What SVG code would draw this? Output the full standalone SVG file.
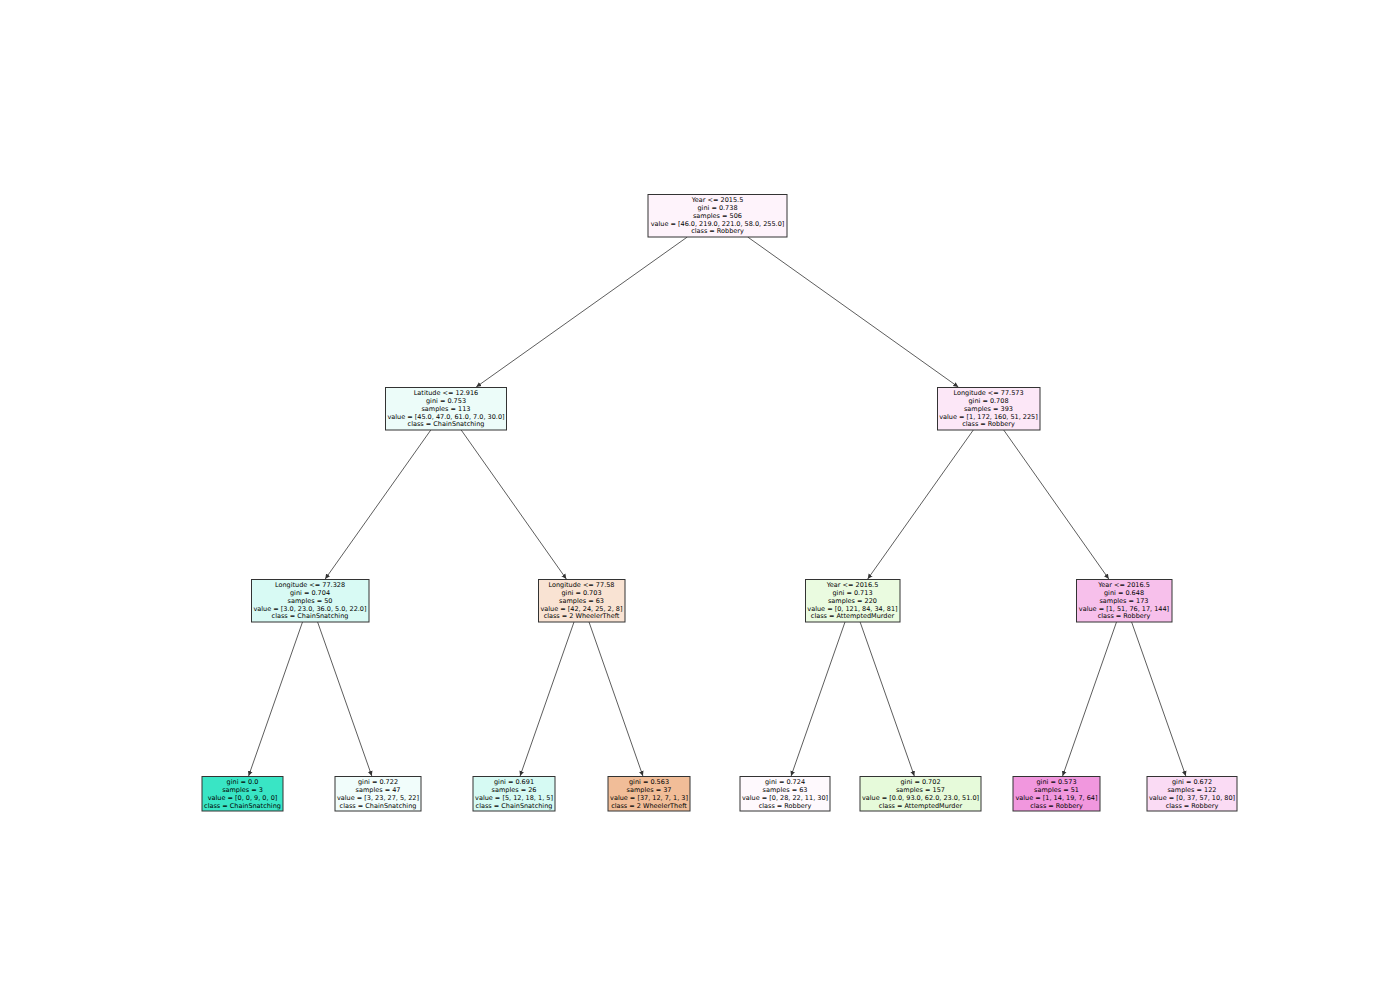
<svg xmlns="http://www.w3.org/2000/svg" width="1400" height="1000" viewBox="0 0 1400 1000">
  <style>
    .box { stroke: #333333; stroke-width: 1; }
    .lbl { font-family: "DejaVu Sans", "Liberation Sans", sans-serif; font-size: 6.5px; fill: #000000; text-anchor: middle; }
    .edge { stroke: #333333; stroke-width: 0.8; fill: none; marker-end: url(#head); }
  </style>
  <defs>
    <marker id="head" markerWidth="6" markerHeight="6" refX="5" refY="3" orient="auto" markerUnits="userSpaceOnUse">
      <path d="M0,0.6 L5,3 L0,5.4 Z" fill="#333333"/>
    </marker>
  </defs>
  <rect width="1400" height="1000" fill="#ffffff"/>

  <!-- connectors: parent centre to child centre, clipped to the box edges -->
  <g id="edges">
    <line class="edge" x1="687.3" y1="237" x2="476.2" y2="387"/>
    <line class="edge" x1="747.7" y1="237" x2="958.3" y2="387"/>
    <line class="edge" x1="430.8" y1="430" x2="325.2" y2="579"/>
    <line class="edge" x1="461.2" y1="430" x2="566.3" y2="579"/>
    <line class="edge" x1="973.3" y1="430" x2="867.7" y2="579"/>
    <line class="edge" x1="1003.7" y1="430" x2="1108.8" y2="579"/>
    <line class="edge" x1="302.5" y1="622" x2="248.6" y2="776"/>
    <line class="edge" x1="317.6" y1="622" x2="371.8" y2="776"/>
    <line class="edge" x1="574" y1="622" x2="520.1" y2="776"/>
    <line class="edge" x1="589" y1="622" x2="642.9" y2="776"/>
    <line class="edge" x1="845" y1="622" x2="791.1" y2="776"/>
    <line class="edge" x1="860.1" y1="622" x2="914.3" y2="776"/>
    <line class="edge" x1="1116.5" y1="622" x2="1062.6" y2="776"/>
    <line class="edge" x1="1131.6" y1="622" x2="1185.8" y2="776"/>
  </g>

  <!-- split nodes -->
  <g id="n0">
    <rect class="box" x="648" y="194.5" width="139" height="42.5" fill="#fef3fb"/>
    <text class="lbl" x="717.5" y="202.3">Year &lt;= 2015.5</text>
    <text class="lbl" x="717.5" y="210.1">gini = 0.738</text>
    <text class="lbl" x="717.5" y="217.8">samples = 506</text>
    <text class="lbl" x="717.5" y="225.6">value = [46.0, 219.0, 221.0, 58.0, 255.0]</text>
    <text class="lbl" x="717.5" y="233.3">class = Robbery</text>
  </g>
  <g id="n1">
    <rect class="box" x="385.5" y="387.5" width="121" height="42.5" fill="#ecfcf9"/>
    <text class="lbl" x="446" y="395.3">Latitude &lt;= 12.916</text>
    <text class="lbl" x="446" y="403.1">gini = 0.753</text>
    <text class="lbl" x="446" y="410.8">samples = 113</text>
    <text class="lbl" x="446" y="418.6">value = [45.0, 47.0, 61.0, 7.0, 30.0]</text>
    <text class="lbl" x="446" y="426.3">class = ChainSnatching</text>
  </g>
  <g id="n2">
    <rect class="box" x="937.5" y="387.5" width="102.5" height="42.5" fill="#fce7f7"/>
    <text class="lbl" x="988.5" y="395.3">Longitude &lt;= 77.573</text>
    <text class="lbl" x="988.5" y="403.1">gini = 0.708</text>
    <text class="lbl" x="988.5" y="410.8">samples = 393</text>
    <text class="lbl" x="988.5" y="418.6">value = [1, 172, 160, 51, 225]</text>
    <text class="lbl" x="988.5" y="426.3">class = Robbery</text>
  </g>
  <g id="n3">
    <rect class="box" x="251.5" y="579.5" width="117.5" height="42.5" fill="#d8faf4"/>
    <text class="lbl" x="310" y="587.3">Longitude &lt;= 77.328</text>
    <text class="lbl" x="310" y="595.1">gini = 0.704</text>
    <text class="lbl" x="310" y="602.8">samples = 50</text>
    <text class="lbl" x="310" y="610.6">value = [3.0, 23.0, 36.0, 5.0, 22.0]</text>
    <text class="lbl" x="310" y="618.3">class = ChainSnatching</text>
  </g>
  <g id="n4">
    <rect class="box" x="538.5" y="579.5" width="86.5" height="42.5" fill="#f9e3d3"/>
    <text class="lbl" x="581.5" y="587.3">Longitude &lt;= 77.58</text>
    <text class="lbl" x="581.5" y="595.1">gini = 0.703</text>
    <text class="lbl" x="581.5" y="602.8">samples = 63</text>
    <text class="lbl" x="581.5" y="610.6">value = [42, 24, 25, 2, 8]</text>
    <text class="lbl" x="581.5" y="618.3">class = 2 WheelerTheft</text>
  </g>
  <g id="n5">
    <rect class="box" x="805.5" y="579.5" width="94.5" height="42.5" fill="#eafbe0"/>
    <text class="lbl" x="852.5" y="587.3">Year &lt;= 2016.5</text>
    <text class="lbl" x="852.5" y="595.1">gini = 0.713</text>
    <text class="lbl" x="852.5" y="602.8">samples = 220</text>
    <text class="lbl" x="852.5" y="610.6">value = [0, 121, 84, 34, 81]</text>
    <text class="lbl" x="852.5" y="618.3">class = AttemptedMurder</text>
  </g>
  <g id="n6">
    <rect class="box" x="1076.5" y="579.5" width="95.5" height="42.5" fill="#f7c0eb"/>
    <text class="lbl" x="1124" y="587.3">Year &lt;= 2016.5</text>
    <text class="lbl" x="1124" y="595.1">gini = 0.648</text>
    <text class="lbl" x="1124" y="602.8">samples = 173</text>
    <text class="lbl" x="1124" y="610.6">value = [1, 51, 76, 17, 144]</text>
    <text class="lbl" x="1124" y="618.3">class = Robbery</text>
  </g>

  <!-- leaf nodes -->
  <g id="n7">
    <rect class="box" x="202" y="776.5" width="81" height="34.5" fill="#39e5c5"/>
    <text class="lbl" x="242.5" y="784.2">gini = 0.0</text>
    <text class="lbl" x="242.5" y="792">samples = 3</text>
    <text class="lbl" x="242.5" y="799.7">value = [0, 0, 9, 0, 0]</text>
    <text class="lbl" x="242.5" y="807.5">class = ChainSnatching</text>
  </g>
  <g id="n8">
    <rect class="box" x="335" y="776.5" width="86" height="34.5" fill="#f1fdfb"/>
    <text class="lbl" x="378" y="784.2">gini = 0.722</text>
    <text class="lbl" x="378" y="792">samples = 47</text>
    <text class="lbl" x="378" y="799.7">value = [3, 23, 27, 5, 22]</text>
    <text class="lbl" x="378" y="807.5">class = ChainSnatching</text>
  </g>
  <g id="n9">
    <rect class="box" x="473" y="776.5" width="82" height="34.5" fill="#d6faf3"/>
    <text class="lbl" x="514" y="784.2">gini = 0.691</text>
    <text class="lbl" x="514" y="792">samples = 26</text>
    <text class="lbl" x="514" y="799.7">value = [5, 12, 18, 1, 5]</text>
    <text class="lbl" x="514" y="807.5">class = ChainSnatching</text>
  </g>
  <g id="n10">
    <rect class="box" x="608" y="776.5" width="82" height="34.5" fill="#f1bd98"/>
    <text class="lbl" x="649" y="784.2">gini = 0.563</text>
    <text class="lbl" x="649" y="792">samples = 37</text>
    <text class="lbl" x="649" y="799.7">value = [37, 12, 7, 1, 3]</text>
    <text class="lbl" x="649" y="807.5">class = 2 WheelerTheft</text>
  </g>
  <g id="n11">
    <rect class="box" x="740" y="776.5" width="90" height="34.5" fill="#fef9fd"/>
    <text class="lbl" x="785" y="784.2">gini = 0.724</text>
    <text class="lbl" x="785" y="792">samples = 63</text>
    <text class="lbl" x="785" y="799.7">value = [0, 28, 22, 11, 30]</text>
    <text class="lbl" x="785" y="807.5">class = Robbery</text>
  </g>
  <g id="n12">
    <rect class="box" x="860" y="776.5" width="121" height="34.5" fill="#e6fada"/>
    <text class="lbl" x="920.5" y="784.2">gini = 0.702</text>
    <text class="lbl" x="920.5" y="792">samples = 157</text>
    <text class="lbl" x="920.5" y="799.7">value = [0.0, 93.0, 62.0, 23.0, 51.0]</text>
    <text class="lbl" x="920.5" y="807.5">class = AttemptedMurder</text>
  </g>
  <g id="n13">
    <rect class="box" x="1013" y="776.5" width="87" height="34.5" fill="#f197de"/>
    <text class="lbl" x="1056.5" y="784.2">gini = 0.573</text>
    <text class="lbl" x="1056.5" y="792">samples = 51</text>
    <text class="lbl" x="1056.5" y="799.7">value = [1, 14, 19, 7, 64]</text>
    <text class="lbl" x="1056.5" y="807.5">class = Robbery</text>
  </g>
  <g id="n14">
    <rect class="box" x="1147" y="776.5" width="90" height="34.5" fill="#fadbf4"/>
    <text class="lbl" x="1192" y="784.2">gini = 0.672</text>
    <text class="lbl" x="1192" y="792">samples = 122</text>
    <text class="lbl" x="1192" y="799.7">value = [0, 37, 57, 10, 80]</text>
    <text class="lbl" x="1192" y="807.5">class = Robbery</text>
  </g>
</svg>
